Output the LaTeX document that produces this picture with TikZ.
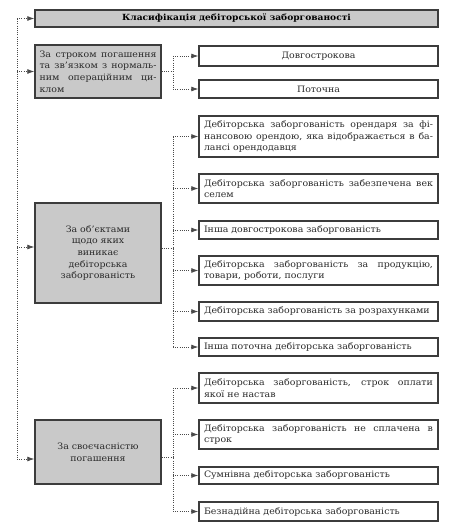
\documentclass[tikz,border=0pt]{standalone}
\usepackage{fontspec}
\setmainfont{DejaVu Serif}[FakeStretch=1.07]
\usetikzlibrary{arrows.meta}
\definecolor{boxc}{HTML}{3C3C3C}
\definecolor{grayf}{HTML}{C9C9C9}
\definecolor{txt}{HTML}{2A2A2A}
\definecolor{dotc}{HTML}{4A4A4A}
\begin{document}
\begin{tikzpicture}[x=1pt,y=-1pt,
  box/.style={draw=boxc, line width=1.4pt, inner sep=0pt, text=txt,
    font=\fontsize{8.8}{11.6}\selectfont},
  rbox/.style={box, fill=white, minimum width=239pt, text width=229pt, align=justify},
  gbox/.style={box, fill=grayf, minimum width=126pt, text width=117pt},
  dl/.style={draw=dotc, line width=0.8pt, dash pattern=on 1pt off 1.2pt},
  arr/.style={-{Latex[length=7pt,width=5pt]}}]
\useasboundingbox (0,0) rectangle (475,524);
% title
\node[box, fill=grayf, minimum width=403pt, minimum height=17pt, font=\fontsize{8.5}{10}\selectfont\bfseries, text=black] (title) at (236.5,18.5) {Класифікація дебіторської заборгованості};
% gray group boxes
\node[gbox, minimum height=53pt, align=justify] (g1) at (98,71.5) {За строком погашення\linebreak та зв'язком з нормаль-\linebreak ним операційним ци-\linebreak клом};
\node[gbox, minimum height=100pt, align=center] (g2) at (98,253) {За об'єктами\\щодо яких\\виникає\\дебіторська\\заборгованість};
\node[gbox, minimum height=64pt, align=center] (g3) at (98,452) {За своєчасністю\\погашення};
% right boxes
\node[rbox, minimum height=20pt, align=center] (r1) at (318.5,56) {Довгострокова};
\node[rbox, minimum height=18pt, align=center] (r2) at (318.5,89) {Поточна};
\node[rbox, minimum height=41pt] (b1) at (318.5,136.5) {Дебіторська заборгованість орендаря за фі-\linebreak нансовою орендою, яка відображається в ба-\linebreak лансі орендодавця};
\node[rbox, minimum height=29pt] (b2) at (318.5,188.5) {Дебіторська заборгованість забезпечена век\linebreak селем};
\node[rbox, minimum height=18pt] (b3) at (318.5,230) {Інша довгострокова заборгованість};
\node[rbox, minimum height=29pt] (b4) at (318.5,270.5) {Дебіторська заборгованість за продукцію,\linebreak товари, роботи, послуги};
\node[rbox, minimum height=19pt] (b5) at (318.5,311.5) {Дебіторська заборгованість за розрахунками};
\node[rbox, minimum height=18pt] (b6) at (318.5,347) {Інша поточна дебіторська заборгованість};
\node[rbox, minimum height=30pt] (c1) at (318.5,388) {Дебіторська заборгованість, строк оплати\linebreak якої не настав};
\node[rbox, minimum height=29pt] (c2) at (318.5,434.5) {Дебіторська заборгованість не сплачена в\linebreak строк};
\node[rbox, minimum height=17pt] (c3) at (318.5,475.5) {Сумнівна дебіторська заборгованість};
\node[rbox, minimum height=19pt] (c4) at (318.5,511.5) {Безнадійна дебіторська заборгованість};
% trunk
\coordinate (tt) at (17,19);
\coordinate (tb) at (17,459);
\coordinate (g2in) at ([yshift=6pt]g2.west);
\coordinate (g3in) at ([yshift=-7pt]g3.west);
\draw[dl] (tt) -- (tb);
\draw[dl,arr] (title.west -| tt) -- (title.west);
\draw[dl,arr] (g1.west -| tt) -- (g1.west);
\draw[dl,arr] (g2in -| tt) -- (g2in);
\draw[dl,arr] (g3in -| tt) -- (g3in);
% junctions
\coordinate (j) at (173,0);
\coordinate (g2out) at ([yshift=5pt]g2.east);
\coordinate (g3out) at ([yshift=-5pt]g3.east);
\draw[dl] (g1.east) -- (g1.east -| j);
\draw[dl] (r1.west -| j) -- (r2.west -| j);
\foreach \n in {r1,r2} \draw[dl,arr] (\n.west -| j) -- (\n.west);
\draw[dl] (g2out) -- (g2out -| j);
\draw[dl] (b1.west -| j) -- (b6.west -| j);
\foreach \n in {b1,b2,b3,b4,b5,b6} \draw[dl,arr] (\n.west -| j) -- (\n.west);
\draw[dl] (g3out) -- (g3out -| j);
\draw[dl] (c1.west -| j) -- (c4.west -| j);
\foreach \n in {c1,c2,c3,c4} \draw[dl,arr] (\n.west -| j) -- (\n.west);
\end{tikzpicture}
\end{document}
